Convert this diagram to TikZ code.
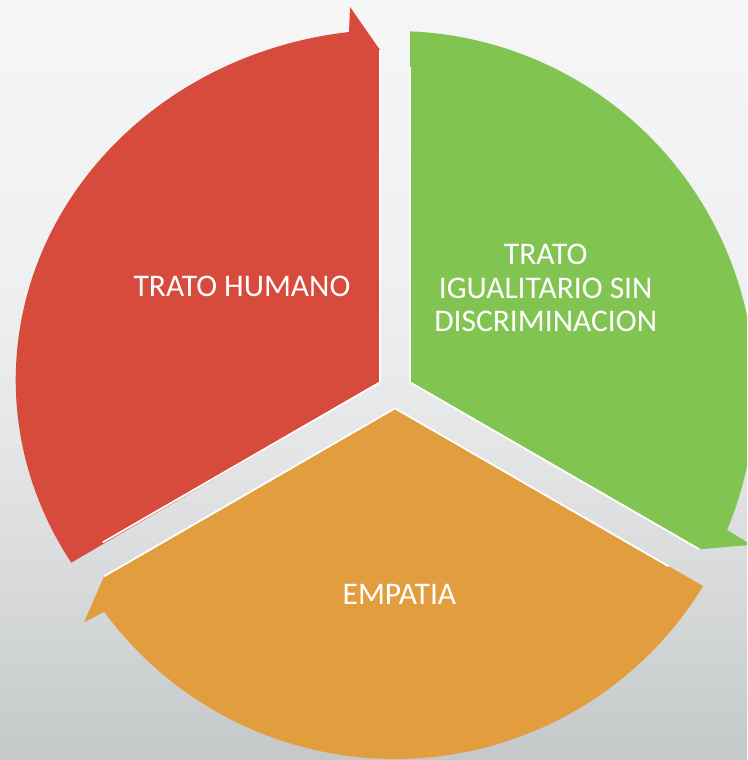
\documentclass[tikz,border=0pt]{standalone}
\usepackage{fontspec}
\usetikzlibrary{calc}
\setmainfont{Carlito}
\definecolor{segred}{HTML}{D74B3C}
\definecolor{seggreen}{HTML}{82C451}
\definecolor{segorange}{HTML}{E29E3E}
\definecolor{bgA}{HTML}{F6F6F7}
\definecolor{bgB}{HTML}{EEEFF0}
\definecolor{bgC}{HTML}{E4E5E6}
\definecolor{bgD}{HTML}{D6D8D9}
\definecolor{bgE}{HTML}{C4C8C9}
\pgfdeclareverticalshading{bgshade}{100bp}{color(0bp)=(bgE); color(25bp)=(bgE); color(35.5bp)=(bgD); color(45.4bp)=(bgC); color(55bp)=(bgB); color(75bp)=(bgA); color(100bp)=(bgA)}
\tikzset{
  lbl/.style={text=white, inner sep=0pt, align=center, font=\fontsize{31.5}{33.5}\selectfont},
  rim/.style={white, line width=1.8pt, line cap=butt}
}
\begin{document}
\begin{tikzpicture}[x=1pt,y=-1pt]
\useasboundingbox (0,0) rectangle (747,760);
\fill[shading=bgshade] (0,0) rectangle (747,760);
\begin{scope}
\clip (0,0) rectangle (747,760);
% red segment
\coordinate (ra) at (380,382.3);
\coordinate (rt) at (380,50);
\fill[segred] (ra) -- (rt) -- (350,7) -- (349,32)
  -- plot[domain=263.03:148.6, samples=90] ({395+379.3*cos(\x)}, {380+350.6*sin(\x)})
  -- cycle;
% green segment
\coordinate (ga) at (410,382.3);
\coordinate (gt) at (699.3,549.3);
\fill[seggreen] (ga) -- (410,30)
  -- plot[domain=-87.6:22.7, samples=90] ({395+360*cos(\x)}, {391+360*sin(\x)})
  -- (751.5,544.8) -- (gt) -- cycle;
% orange segment
\coordinate (oa) at (395,408.3);
\coordinate (ot) at (104,576.3);
\fill[segorange] (oa) -- (ot) -- (84,622.5) -- (104.1,611.8)
  -- plot[domain=143.7:31.4, samples=90] ({395+361*cos(\x)}, {398+361*sin(\x)})
  -- cycle;
% white rims along the radial edges
\draw[rim] (ra) -- (rt);
\draw[rim] (ra) -- ($(ra)+(-0.866*320,0.5*320)$);
\draw[rim] (ga) -- (410,67);
\draw[rim] (ga) -- (gt);
\draw[rim] (oa) -- (ot);
\draw[rim] (oa) -- ($(oa)+(0.866*316,0.5*316)$);
\end{scope}
\node[lbl] (t1) at (242,286.7) {TRATO HUMANO};
\node[lbl] (t2) at (545.7,288.3) {TRATO\\IGUALITARIO SIN\\DISCRIMINACION};
\node[lbl] (t3) at (399.4,594) {EMPATIA};
\end{tikzpicture}
\end{document}
